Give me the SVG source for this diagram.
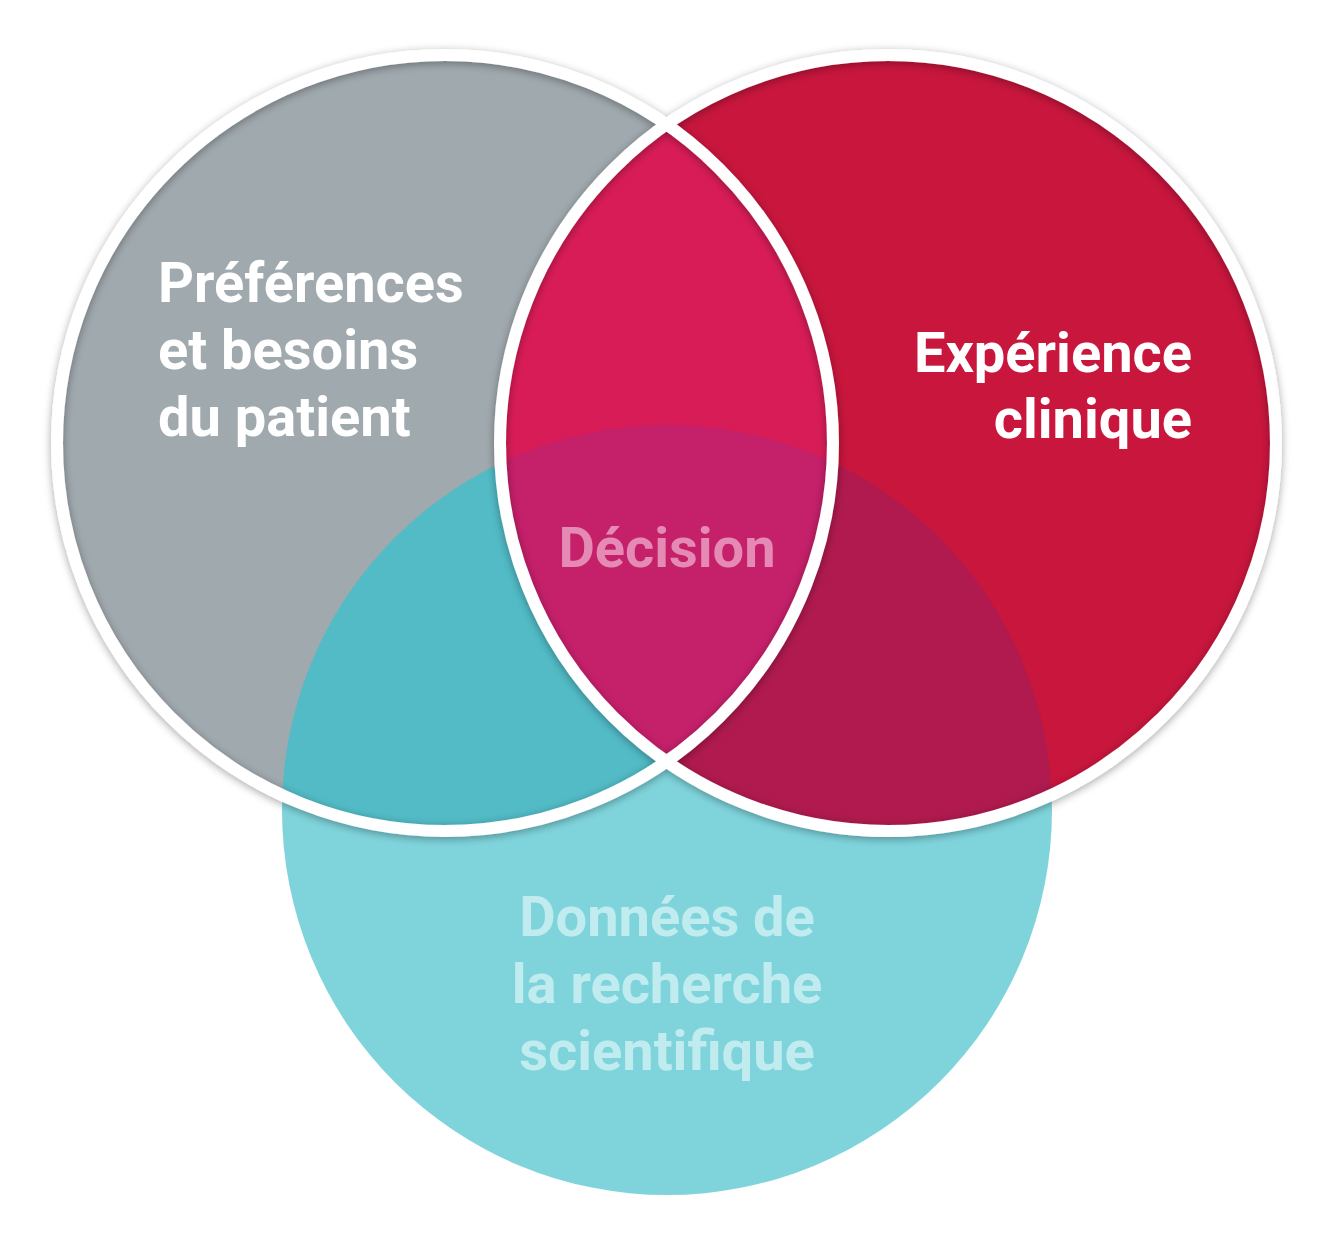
<svg xmlns="http://www.w3.org/2000/svg" width="1330" height="1250" viewBox="0 0 1330 1250">
<style>
.t{font-family:Roboto,"Liberation Sans",sans-serif;font-weight:700;font-size:56px}
.ring{fill:none;stroke:#fff;stroke-width:12}
</style>
<defs>
<clipPath id="cG"><circle cx="445" cy="443" r="388"/></clipPath>
<clipPath id="cR"><circle cx="888" cy="443" r="388"/></clipPath>
<clipPath id="cT"><circle cx="667" cy="810" r="385"/></clipPath>
<filter id="sh" x="-10%" y="-10%" width="120%" height="120%"><feDropShadow dx="0" dy="2" stdDeviation="4" flood-color="#000" flood-opacity="0.35"/></filter>
</defs>
<rect width="1330" height="1250" fill="#fff"/>
<g id="research"><circle cx="667" cy="810" r="385" fill="#7fd4dc"/></g>
<g id="patient"><circle cx="445" cy="443" r="388" fill="#a0a9ae"/></g>
<g id="clinical"><circle cx="888" cy="443" r="388" fill="#c8163d"/></g>
<g id="overlaps">
<circle cx="667" cy="810" r="385" fill="#52bbc6" clip-path="url(#cG)"/>
<circle cx="667" cy="810" r="385" fill="#b01a4e" clip-path="url(#cR)"/>
<circle cx="445" cy="443" r="388" fill="#d81c57" clip-path="url(#cR)"/>
<g clip-path="url(#cR)"><circle cx="445" cy="443" r="388" fill="#c5206a" clip-path="url(#cT)"/></g>
</g>
<g id="rings" filter="url(#sh)">
<circle class="ring" cx="445" cy="443" r="388"/>
<circle class="ring" cx="888" cy="443" r="388"/>
</g>
<g id="labels">
<text class="t" fill="#fff" x="158" y="302">Préférences</text>
<text class="t" fill="#fff" x="158" y="369">et besoins</text>
<text class="t" fill="#fff" x="158" y="436">du patient</text>
<text class="t" fill="#fff" x="1192" y="372" text-anchor="end">Expérience</text>
<text class="t" fill="#fff" x="1192" y="438" text-anchor="end">clinique</text>
<text class="t" fill="#e58ab5" x="667" y="567" text-anchor="middle">Décision</text>
<text class="t" fill="#c0ecf0" x="667" y="936" text-anchor="middle">Données de</text>
<text class="t" fill="#c0ecf0" x="667" y="1003" text-anchor="middle">la recherche</text>
<text class="t" fill="#c0ecf0" x="667" y="1070" text-anchor="middle">scientifique</text>
</g>
</svg>
